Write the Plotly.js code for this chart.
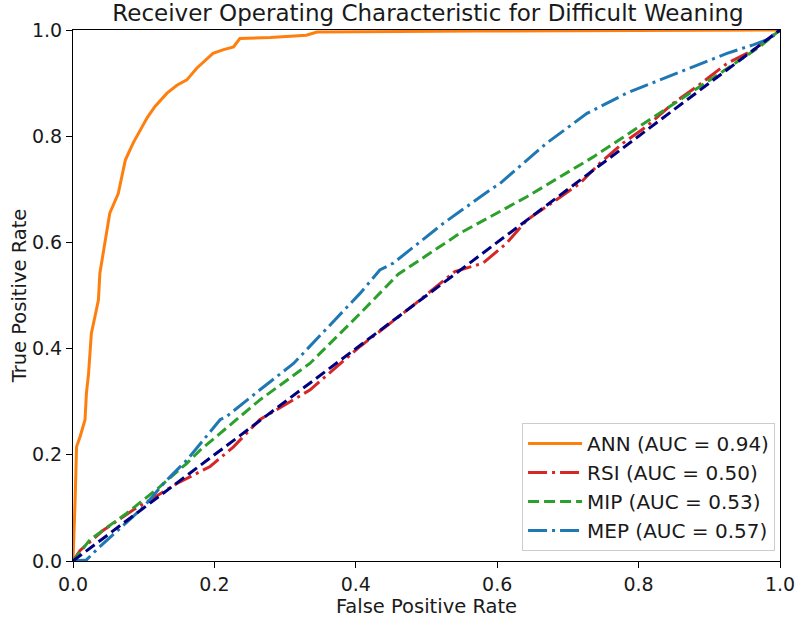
<!DOCTYPE html>
<html>
<head>
<meta charset="utf-8">
<script src="https://cdn.plot.ly/plotly-3.0.1.min.js"></script>
<style>body{margin:0;padding:0;background:#fff;} #chart{width:800px;height:618px;}</style>
</head>
<body>
<div id="chart"></div>
<script>
const seriesNames = ["ANN (AUC = 0.94)", "RSI (AUC = 0.50)", "MIP (AUC = 0.53)", "MEP (AUC = 0.57)"];

const annFpr = [0, 0.002, 0.003, 0.005, 0.010, 0.017, 0.019, 0.022, 0.024, 0.026, 0.031, 0.036, 0.038, 0.045, 0.052, 0.064, 0.074, 0.085, 0.095, 0.105, 0.116, 0.133, 0.147, 0.161, 0.175, 0.198, 0.213, 0.227, 0.236, 0.279, 0.330, 0.345, 0.57, 1.0];
const annTpr = [0, 0.06, 0.115, 0.215, 0.234, 0.266, 0.316, 0.353, 0.397, 0.429, 0.460, 0.492, 0.542, 0.60, 0.655, 0.692, 0.755, 0.787, 0.812, 0.835, 0.856, 0.881, 0.896, 0.906, 0.928, 0.956, 0.963, 0.968, 0.984, 0.986, 0.990, 0.996, 0.998, 1.0];

const rsiFpr = [0, 0.01, 0.043, 0.085, 0.109, 0.147, 0.194, 0.227, 0.264, 0.335, 0.406, 0.48, 0.54, 0.565, 0.580, 0.613, 0.642, 0.717, 0.745, 0.778, 0.811, 0.849, 0.882, 0.925, 0.962, 1];
const rsiTpr = [0, 0.02, 0.058, 0.096, 0.115, 0.146, 0.178, 0.215, 0.266, 0.322, 0.404, 0.48, 0.545, 0.555, 0.561, 0.598, 0.642, 0.711, 0.749, 0.787, 0.818, 0.862, 0.893, 0.937, 0.962, 1];

const mipFpr = [0, 0.024, 0.076, 0.123, 0.161, 0.180, 0.264, 0.335, 0.406, 0.435, 0.46, 0.547, 0.642, 0.736, 0.830, 0.901, 0.972, 1];
const mipTpr = [0, 0.040, 0.090, 0.140, 0.184, 0.209, 0.303, 0.372, 0.466, 0.505, 0.54, 0.617, 0.686, 0.761, 0.843, 0.906, 0.969, 1];

const mepFpr = [0, 0.019, 0.038, 0.1, 0.128, 0.161, 0.208, 0.217, 0.264, 0.312, 0.406, 0.434, 0.453, 0.524, 0.590, 0.604, 0.670, 0.727, 0.783, 0.830, 0.877, 0.925, 0.962, 0.986, 1];
const mepTpr = [0, 0.002, 0.027, 0.102, 0.146, 0.190, 0.266, 0.272, 0.322, 0.372, 0.504, 0.548, 0.561, 0.636, 0.699, 0.711, 0.787, 0.843, 0.881, 0.906, 0.931, 0.956, 0.972, 0.984, 1];

const chanceX = [0, 1];
const chanceY = [0, 1];

const tickVals = [0, 0.2, 0.4, 0.6, 0.8, 1.0];
const tickText = ["0.0", "0.2", "0.4", "0.6", "0.8", "1.0"];

const font = "DejaVu Sans, sans-serif";
const textColor = "#1a1a1a";

const traces = [
  {x: annFpr, y: annTpr, name: seriesNames[0], mode: "lines", line: {color: "#ff7f0e", width: 3}},
  {x: rsiFpr, y: rsiTpr, name: seriesNames[1], mode: "lines", line: {color: "#d62728", width: 3, dash: "19px,5px,3px,5px"}},
  {x: mipFpr, y: mipTpr, name: seriesNames[2], mode: "lines", line: {color: "#2ca02c", width: 3, dash: "11px,5px"}},
  {x: mepFpr, y: mepTpr, name: seriesNames[3], mode: "lines", line: {color: "#1f77b4", width: 3, dash: "19px,5px,3px,5px"}},
  {x: chanceX, y: chanceY, mode: "lines", showlegend: false, line: {color: "#000080", width: 3, dash: "11px,5px"}}
];

const axisCommon = {
  range: [0, 1],
  tickvals: tickVals,
  ticktext: tickText,
  showgrid: false,
  zeroline: false,
  showline: true,
  mirror: true,
  linecolor: "#000",
  linewidth: 1,
  ticks: "outside",
  ticklen: 6,
  tickcolor: "#000",
  tickfont: {family: font, size: 19, color: textColor}
};

const layout = {
  width: 800,
  height: 618,
  margin: {l: 73, r: 20, t: 30, b: 57},
  paper_bgcolor: "#fff",
  plot_bgcolor: "#fff",
  font: {family: font, color: textColor},
  title: {text: "Receiver Operating Characteristic for Difficult Weaning", font: {family: font, size: 23, color: textColor}, x: 0.535, xanchor: "center", y: 0.979, yanchor: "middle"},
  xaxis: Object.assign({}, axisCommon, {title: {text: "False Positive Rate", font: {family: font, size: 19.5, color: textColor}, standoff: 2}}),
  yaxis: Object.assign({}, axisCommon, {title: {text: "True Positive Rate", font: {family: font, size: 19.5, color: textColor}, standoff: 0}}),
  showlegend: true,
  legend: {
    x: 0.993, y: 0.019, xanchor: "right", yanchor: "bottom",
    bgcolor: "rgba(255,255,255,0.9)", bordercolor: "#cccccc", borderwidth: 1,
    font: {family: font, size: 20, color: textColor},
    itemwidth: 54, tracegroupgap: 0
  }
};

Plotly.newPlot("chart", traces, layout, {staticPlot: true, displayModeBar: false});
</script>
</body>
</html>
